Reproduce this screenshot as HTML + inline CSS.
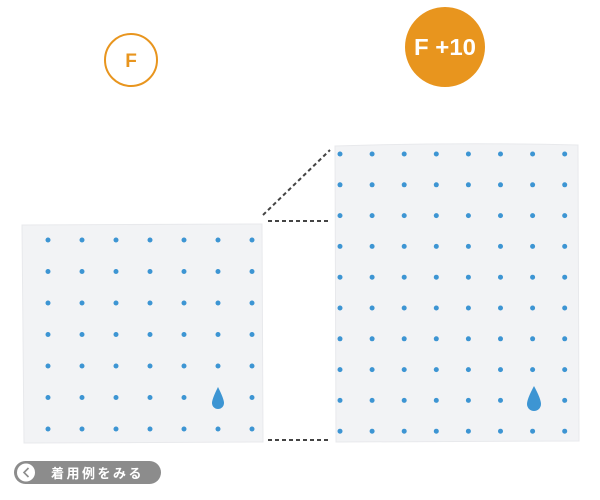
<!DOCTYPE html>
<html><head><meta charset="utf-8"><style>
html,body{margin:0;padding:0;background:#fff;width:600px;height:500px;overflow:hidden}
</style></head><body>
<svg width="600" height="500" viewBox="0 0 600 500" xmlns="http://www.w3.org/2000/svg">
<circle cx="131" cy="60" r="26" fill="none" stroke="#E8951E" stroke-width="2"/>
<text x="131" y="67" text-anchor="middle" font-family="Liberation Sans, sans-serif" font-weight="bold" font-size="19" fill="#E8951E">F</text>
<circle cx="445" cy="47" r="40" fill="#E8951E"/>
<text x="445" y="55" text-anchor="middle" font-family="Liberation Sans, sans-serif" font-weight="bold" font-size="23" fill="#fff" textLength="62" lengthAdjust="spacingAndGlyphs">F +10</text>
<g stroke="#444" stroke-width="2" stroke-dasharray="4,3" fill="none">
<line x1="263" y1="215" x2="330" y2="150"/>
<line x1="268" y1="221" x2="331" y2="221"/>
<line x1="268" y1="440" x2="331" y2="440"/>
</g>
<path d="M22 225 L262 224 L263 442 L24 443 Z" fill="#f2f3f5" stroke="#e8e9ec"/>
<path d="M335 146 Q460 142 578 145 L579 441 L336 442 Z" fill="#f2f3f5" stroke="#e8e9ec"/>
<g fill="#3d95d3" id="s"></g>
<g fill="#3d95d3" id="l"></g>
<path d="M218 387 Q212 399 212 403 A6 6 0 0 0 224 403 Q224 399 218 387 Z" fill="#3d95d3"/>
<path d="M534 386 Q527 399 527 404 A7 7 0 0 0 541 404 Q541 399 534 386 Z" fill="#3d95d3"/>
<rect x="14" y="461" width="147" height="23" rx="11.5" fill="#8c8c8c"/>
<circle cx="26" cy="472.5" r="9" fill="#fff"/>
<path d="M28.5 468 L24 472.5 L28.5 477" fill="none" stroke="#8c8c8c" stroke-width="1.6"/>
<text x="51" y="478" font-family="Liberation Sans, Noto Sans CJK JP, sans-serif" font-weight="bold" font-size="13" letter-spacing="2.5" fill="#fff">着用例をみる</text>
</svg>
<script>
var ns="http://www.w3.org/2000/svg";
var s=document.getElementById("s"),l=document.getElementById("l");
for(var r=0;r<7;r++)for(var c=0;c<7;c++){if(r==5&&c==5)continue;var e=document.createElementNS(ns,"circle");e.setAttribute("cx",48+c*34);e.setAttribute("cy",240+r*31.5);e.setAttribute("r",2.5);s.appendChild(e);}
for(var r=0;r<10;r++)for(var c=0;c<8;c++){if(r==8&&c==6)continue;var e=document.createElementNS(ns,"circle");e.setAttribute("cx",340+c*32.1);e.setAttribute("cy",154+r*30.8);e.setAttribute("r",2.5);l.appendChild(e);}
</script>
</body></html>
